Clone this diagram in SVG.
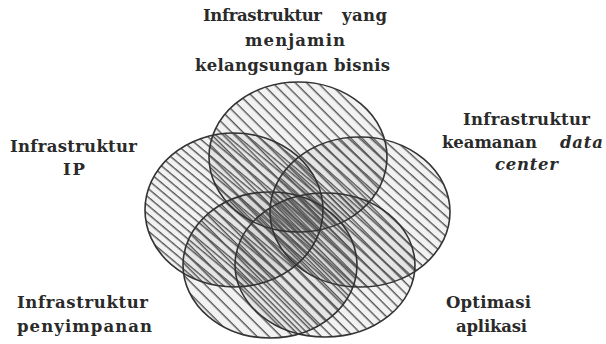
<svg xmlns="http://www.w3.org/2000/svg" width="606" height="344" viewBox="0 0 606 344">
<style>
  .lbl { font-family: "DejaVu Serif", "Liberation Serif", serif; font-weight: bold; font-size: 16.5px; fill: #2a2a2a; }
  .it { font-style: italic; font-weight: bold; }
  .ring { fill: none; stroke: #333; stroke-width: 1.6; }
  .tint { fill: #000; fill-opacity: 0.05; }
</style>
<defs>
  <pattern id="hTop" patternUnits="userSpaceOnUse" width="20" height="8" patternTransform="rotate(45) translate(0,1)">
    <rect x="0" y="0" width="20" height="1.4" fill="#555"/>
  </pattern>
  <pattern id="hLeft" patternUnits="userSpaceOnUse" width="20" height="6.5" patternTransform="rotate(40) translate(0,3)">
    <rect x="0" y="0" width="20" height="1.4" fill="#555"/>
  </pattern>
  <pattern id="hRight" patternUnits="userSpaceOnUse" width="20" height="7.5" patternTransform="rotate(42) translate(0,4)">
    <rect x="0" y="0" width="20" height="1.4" fill="#555"/>
  </pattern>
  <pattern id="hBL" patternUnits="userSpaceOnUse" width="20" height="8.5" patternTransform="rotate(45) translate(0,4.5)">
    <rect x="0" y="0" width="20" height="1.4" fill="#555"/>
  </pattern>
  <pattern id="hBR" patternUnits="userSpaceOnUse" width="20" height="7.5" patternTransform="rotate(45) translate(0,2.5)">
    <rect x="0" y="0" width="20" height="1.4" fill="#555"/>
  </pattern>
</defs>
<rect width="606" height="344" fill="#fff"/>

<g id="tints">
  <ellipse class="tint" cx="298" cy="157" rx="89" ry="75"/>
  <ellipse class="tint" cx="234" cy="210" rx="89" ry="77"/>
  <ellipse class="tint" cx="360" cy="212" rx="90" ry="75"/>
  <ellipse class="tint" cx="270" cy="265" rx="87" ry="73"/>
  <ellipse class="tint" cx="325" cy="265" rx="90" ry="72"/>
</g>
<g id="hatching">
  <ellipse cx="298" cy="157" rx="89" ry="75" fill="url(#hTop)"/>
  <ellipse cx="234" cy="210" rx="89" ry="77" fill="url(#hLeft)"/>
  <ellipse cx="360" cy="212" rx="90" ry="75" fill="url(#hRight)"/>
  <ellipse cx="270" cy="265" rx="87" ry="73" fill="url(#hBL)"/>
  <ellipse cx="325" cy="265" rx="90" ry="72" fill="url(#hBR)"/>
</g>

<g id="node-continuity">
  <ellipse class="ring" cx="298" cy="157" rx="89" ry="75"/>
  <text class="lbl" x="203" y="21" textLength="119" lengthAdjust="spacing">Infrastruktur</text>
  <text class="lbl" x="342" y="21" textLength="45" lengthAdjust="spacing">yang</text>
  <text class="lbl" x="245" y="46" textLength="100" lengthAdjust="spacing">menjamin</text>
  <text class="lbl" x="195" y="71" textLength="195" lengthAdjust="spacing">kelangsungan bisnis</text>
</g>
<g id="node-ip">
  <ellipse class="ring" cx="234" cy="210" rx="89" ry="77"/>
  <text class="lbl" x="10" y="152" textLength="127" lengthAdjust="spacing">Infrastruktur</text>
  <text class="lbl" x="63" y="175" textLength="22" lengthAdjust="spacing">IP</text>
</g>
<g id="node-security">
  <ellipse class="ring" cx="360" cy="212" rx="90" ry="75"/>
  <text class="lbl" x="463" y="125" textLength="127" lengthAdjust="spacing">Infrastruktur</text>
  <text class="lbl" x="442" y="148" textLength="95" lengthAdjust="spacing">keamanan</text>
  <text class="lbl it" x="560" y="148" textLength="43" lengthAdjust="spacing">data</text>
  <text class="lbl it" x="495" y="170" textLength="63" lengthAdjust="spacing">center</text>
</g>
<g id="node-storage">
  <ellipse class="ring" cx="270" cy="265" rx="87" ry="73"/>
  <text class="lbl" x="17" y="308" textLength="131" lengthAdjust="spacing">Infrastruktur</text>
  <text class="lbl" x="17" y="332" textLength="135" lengthAdjust="spacing">penyimpanan</text>
</g>
<g id="node-optimization">
  <ellipse class="ring" cx="325" cy="265" rx="90" ry="72"/>
  <text class="lbl" x="446" y="308" textLength="85" lengthAdjust="spacing">Optimasi</text>
  <text class="lbl" x="456" y="332" textLength="71" lengthAdjust="spacing">aplikasi</text>
</g>
<g id="connectors"/>
</svg>
